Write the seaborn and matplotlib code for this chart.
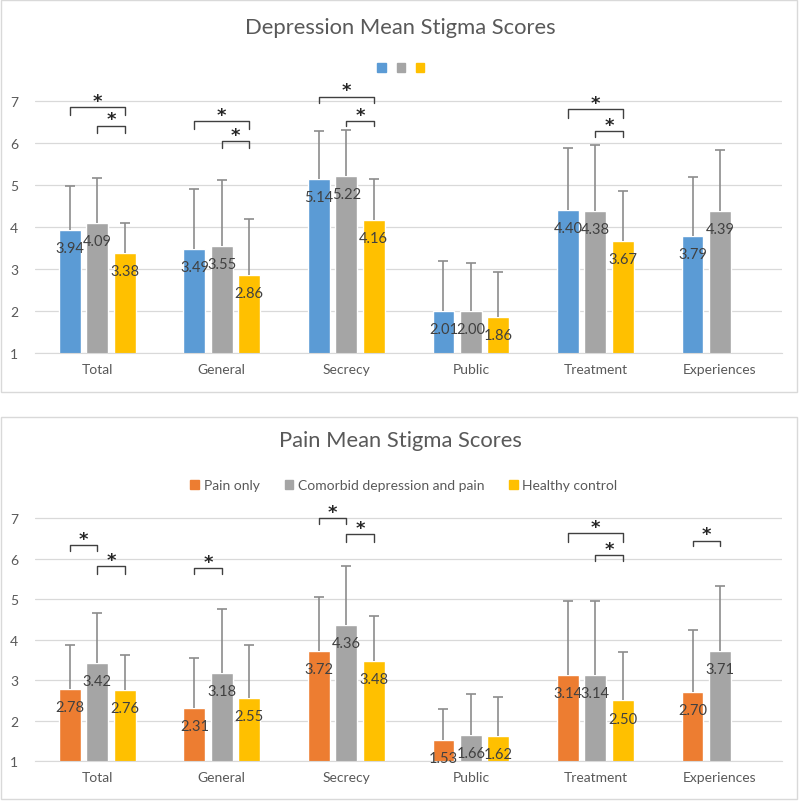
import numpy as np
import pandas as pd
import seaborn as sns
import matplotlib.pyplot as plt
from matplotlib.patches import Patch, Rectangle

categories = ["Total", "General", "Secrecy", "Public", "Treatment", "Experiences"]

# depression panel (legend has no labels in the original)
dep_groups = ["Depression only", "Comorbid depression and pain", "Healthy control"]
dep_means = {
    "Depression only": [3.94, 3.49, 5.14, 2.01, 4.40, 3.79],
    "Comorbid depression and pain": [4.09, 3.55, 5.22, 2.00, 4.38, 4.39],
    "Healthy control": [3.38, 2.86, 4.16, 1.86, 3.67, np.nan],
}
dep_err = {
    "Depression only": [1.04, 1.43, 1.14, 1.18, 1.49, 1.41],
    "Comorbid depression and pain": [1.08, 1.57, 1.09, 1.15, 1.57, 1.46],
    "Healthy control": [0.73, 1.33, 0.99, 1.07, 1.19, np.nan],
}
# (category, bar a, bar b, top of bracket, bottom of legs)
dep_brackets = [
    (0, 0, 2, 6.86, 6.67), (0, 1, 2, 6.42, 6.25),
    (1, 0, 2, 6.53, 6.34), (1, 1, 2, 6.05, 5.89),
    (2, 0, 2, 7.11, 6.96), (2, 1, 2, 6.53, 6.40),
    (4, 0, 2, 6.82, 6.60), (4, 1, 2, 6.28, 6.14),
]

# pain panel
pain_groups = ["Pain only", "Comorbid depression and pain", "Healthy control"]
pain_means = {
    "Pain only": [2.78, 2.31, 3.72, 1.53, 3.14, 2.70],
    "Comorbid depression and pain": [3.42, 3.18, 4.36, 1.66, 3.14, 3.71],
    "Healthy control": [2.76, 2.55, 3.48, 1.62, 2.50, np.nan],
}
pain_err = {
    "Pain only": [1.09, 1.23, 1.33, 0.77, 1.82, 1.54],
    "Comorbid depression and pain": [1.24, 1.58, 1.46, 0.99, 1.82, 1.61],
    "Healthy control": [0.86, 1.33, 1.10, 0.97, 1.20, np.nan],
}
pain_brackets = [
    (0, 0, 1, 6.33, 6.18), (0, 1, 2, 5.82, 5.61),
    (1, 0, 1, 5.76, 5.61),
    (2, 0, 1, 7.00, 6.84), (2, 1, 2, 6.61, 6.40),
    (4, 0, 2, 6.62, 6.40), (4, 1, 2, 6.08, 5.93),
    (5, 0, 1, 6.44, 6.30),
]

dep_colors = ["#5B9BD5", "#A5A5A5", "#FFC000"]
pain_colors = ["#ED7D31", "#A5A5A5", "#FFC000"]

sns.set_style("white")
plt.rcParams["font.family"] = ["Lato", "DejaVu Sans"]

TXT = "#595959"
GRID = "#D9D9D9"


def to_long(groups, means, errs):
    rows = []
    for g in groups:
        for c, m, e in zip(categories, means[g], errs[g]):
            if not np.isnan(m):
                rows.append({"category": c, "group": g, "mean": m, "err": e})
    return pd.DataFrame(rows)


def draw_panel(ax, groups, means, errs, colors, brackets):
    df = to_long(groups, means, errs)
    sns.barplot(data=df, x="category", y="mean", hue="group", order=categories,
                hue_order=groups, palette=colors, errorbar=None, width=0.66,
                gap=0.2, legend=False, saturation=1, ax=ax)
    centers = {}
    for gi, (g, cont) in enumerate(zip(groups, ax.containers)):
        for bar in cont:
            xc = bar.get_x() + bar.get_width() / 2
            ci = int(round(xc))
            m = means[g][ci]
            e = errs[g][ci]
            centers[(ci, gi)] = xc
            ax.vlines(xc, m, m + e, color="#8C8C8C", lw=1.2, zorder=3)
            ax.plot([xc], [m + e], marker="_", ms=7, mew=1.2, color="#8C8C8C", zorder=3)
            ax.annotate(f"{m:.2f}", (xc, m), xytext=(0, -13), textcoords="offset points",
                        ha="center", va="center", fontsize=10.5, color="#404040", zorder=4)
    for ci, a, b, yt, yb in brackets:
        x0, x1 = centers[(ci, a)], centers[(ci, b)]
        ax.plot([x0, x0, x1, x1], [yb, yt, yt, yb], color="#404040", lw=1,
                clip_on=False, zorder=4)
        ax.annotate("*", ((x0 + x1) / 2, yt), xytext=(0, -2), textcoords="offset points",
                    ha="center", va="bottom", fontsize=13, fontweight="bold",
                    family="DejaVu Sans", color="#262626", annotation_clip=False)
    ax.set_ylim(1, 7.3)
    ax.set_xlim(-0.5, 5.5)
    ax.set_yticks(range(1, 8))
    ax.yaxis.grid(True, color=GRID, lw=0.9)
    ax.set_axisbelow(True)
    for s in ["left", "right", "top"]:
        ax.spines[s].set_visible(False)
    ax.spines["bottom"].set_color(GRID)
    ax.tick_params(axis="both", length=0, labelsize=10, colors=TXT)
    ax.tick_params(axis="y", pad=12)
    ax.tick_params(axis="x", pad=7)
    ax.set_xlabel("")
    ax.set_ylabel("")


fig = plt.figure(figsize=(8, 8.03), dpi=100)
H = 803.0

# panel frames
for y0, y1 in [(1, 393), (418, 800)]:
    fig.patches.append(Rectangle((1 / 800, 1 - y1 / H), 796 / 800, (y1 - y0) / H,
                                 transform=fig.transFigure, fill=False,
                                 edgecolor=GRID, lw=1))

ax1 = fig.add_axes([0.04375, 1 - 354 / H, 0.934, (354 - 89.7) / H])
draw_panel(ax1, dep_groups, dep_means, dep_err, dep_colors, dep_brackets)
ax2 = fig.add_axes([0.04375, 1 - 762.3 / H, 0.934, (762.3 - 506.8) / H])
draw_panel(ax2, pain_groups, pain_means, pain_err, pain_colors, pain_brackets)

fig.text(0.5, 1 - 28 / H, "Depression Mean Stigma Scores", ha="center", va="center",
         fontsize=15.8, color=TXT)
fig.text(0.5, 1 - 441 / H, "Pain Mean Stigma Scores", ha="center", va="center",
         fontsize=15.8, color=TXT)

fig.legend([Patch(color=c) for c in dep_colors], ["", "", ""], loc="center",
           bbox_to_anchor=(0.501, 1 - 69 / H), ncol=3, frameon=False, fontsize=10,
           handlelength=0.6, handleheight=0.6, handletextpad=0, columnspacing=0.8)
fig.legend([Patch(color=c) for c in pain_colors], pain_groups, loc="center",
           bbox_to_anchor=(0.505, 1 - 486 / H), ncol=3, frameon=False, fontsize=10,
           handlelength=0.6, handleheight=0.6, handletextpad=0.35, columnspacing=1.8,
           labelcolor=TXT)

fig.savefig("out.png", dpi=100)
